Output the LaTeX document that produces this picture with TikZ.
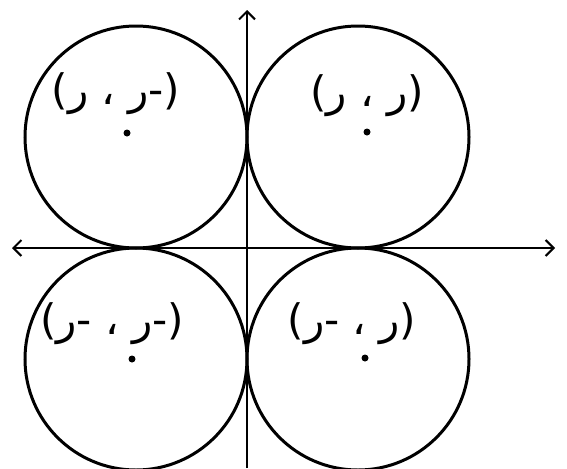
\documentclass[tikz,border=0pt]{standalone}
\usepackage{fontspec}
\usetikzlibrary{arrows.meta}
\newfontfamily\arabicfont[Script=Arabic]{DejaVu Sans}
\TeXXeTstate=1
\tikzset{
  quad/.style={line width=1.5pt},
  axis/.style={-{Straight Barb[length=4pt,width=8pt]},line width=1pt},
  centre/.style={circle,fill=black,inner sep=0pt,minimum size=3.5pt},
  pointlabel/.style={font=\arabicfont\fontsize{21}{25}\selectfont,inner sep=0pt}
}
\begin{document}
\begin{tikzpicture}[x=0.5pt,y=0.5pt]
  \useasboundingbox (0,0) rectangle (567,468);
  \coordinate (o) at (247,220);
  \coordinate (ytop) at (247,458);
  \coordinate (ybot) at (247,0);
  \coordinate (xleft) at (12,220);
  \coordinate (xright) at (555,220);

  \draw[quad] (358,331) circle (111);
  \draw[quad] (136,331) circle (111);
  \draw[quad] (136,109) circle (111);
  \draw[quad] (358,109) circle (111);

  \draw[axis] (ybot) -- (ytop);
  \draw[axis] (o) -- (xright);
  \draw[axis] (o) -- (xleft);

  \node[pointlabel] (l1) at (367,372) {\beginR(ر ، ر)\endR};
  \node[pointlabel] (l2) at (116,374) {\beginR(-ر ، ر)\endR};
  \node[pointlabel] (l3) at (112,144) {\beginR(-ر ، -ر)\endR};
  \node[pointlabel] (l4) at (352,144) {\beginR(ر ، -ر)\endR};

  \node[centre] (c1) at (367,336) {};
  \node[centre] (c2) at (127,335) {};
  \node[centre] (c3) at (132,109) {};
  \node[centre] (c4) at (365,110) {};
\end{tikzpicture}
\end{document}
